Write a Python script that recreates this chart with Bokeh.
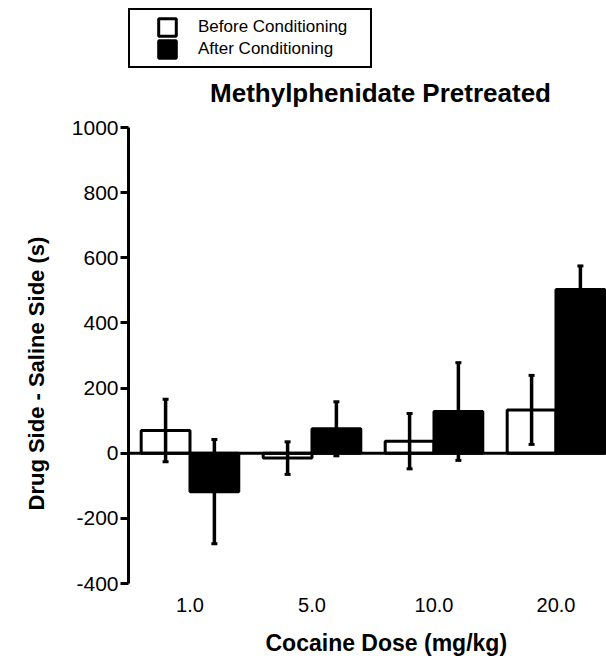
from bokeh.embed import file_html
from bokeh.models import (ColumnDataSource, FixedTicker, Label, Legend, LegendItem,
                          Range1d, Span, TeeHead, Title, Whisker)
from bokeh.plotting import figure
from bokeh.resources import INLINE
from bokeh.transform import dodge

# values (mean and SEM, seconds)
doses = ["1.0", "5.0", "10.0", "20.0"]
before_mean = [70, -15, 37, 133]
before_err = [96, 50, 85, 106]
after_mean = [-118, 75, 128, 503]
after_err = [160, 83, 150, 72]
y_ticks = [-400, -200, 0, 200, 400, 600, 800, 1000]

FONT = "Liberation Sans"


def make_source(means, errs):
    idx = list(range(1, len(means) + 1))
    return ColumnDataSource(data=dict(
        x=idx,
        y=means,
        lo=[m - e for m, e in zip(means, errs)],
        hi=[m + e for m, e in zip(means, errs)],
    ))


before = make_source(before_mean, before_err)
after = make_source(after_mean, after_err)
idx = list(range(1, len(doses) + 1))

# the frame runs up to the top edge so legend and title sit inside it;
# the axis itself is bounded to -400..1000
p = figure(
    width=606,
    height=670,
    x_range=Range1d(0.496, 4.414),
    y_range=Range1d(-400, 1390),
    output_backend="svg",
    toolbar_location=None,
    min_border_left=128,
    min_border_right=0,
    min_border_top=0,
    min_border_bottom=87,
)
p.xgrid.visible = False
p.ygrid.visible = False
p.outline_line_color = None

# y axis
p.yaxis.bounds = (y_ticks[0], y_ticks[-1])
p.yaxis.ticker = FixedTicker(ticks=y_ticks)
p.yaxis.major_label_overrides = {t: str(t) for t in y_ticks}
p.yaxis.axis_line_width = 3
p.yaxis.major_tick_line_width = 3
p.yaxis.major_tick_out = 8
p.yaxis.major_tick_in = 0
p.yaxis.minor_tick_line_color = None
p.yaxis.major_label_standoff = 2
p.yaxis.major_label_text_font = FONT
p.yaxis.major_label_text_font_size = "21px"
p.yaxis.major_label_text_color = "black"

# x axis: only the dose labels
p.xaxis.ticker = FixedTicker(ticks=idx)
p.xaxis.major_label_overrides = dict(zip(idx, doses))
p.xaxis.axis_line_color = None
p.xaxis.major_tick_line_color = None
p.xaxis.minor_tick_line_color = None
p.xaxis.major_label_standoff = 8
p.xaxis.major_label_text_font = FONT
p.xaxis.major_label_text_font_size = "20px"
p.xaxis.major_label_text_color = "black"

# axis titles sit a little off-centre in the original
p.add_layout(Title(text="Cocaine Dose (mg/kg)", align="left", offset=137, standoff=26,
                   text_font=FONT, text_font_size="23px", text_font_style="bold",
                   text_color="black"), "below")
p.add_layout(Title(text="Drug Side - Saline Side (s)", align="left", offset=73, standoff=40,
                   text_font=FONT, text_font_size="22px", text_font_style="bold",
                   text_color="black"), "left")

p.add_layout(Label(text="Methylphenidate Pretreated", x=252, y=491,
                   x_units="screen", y_units="screen",
                   text_align="center", text_baseline="middle",
                   text_font=FONT, text_font_size="26px", text_font_style="bold",
                   text_color="black"))

# bars
white = p.vbar(x=dodge("x", -0.2, range=p.x_range), top="y", bottom=0, width=0.4,
               source=before, fill_color="white", line_color="black", line_width=3)
black = p.vbar(x=dodge("x", 0.2, range=p.x_range), top="y", bottom=0, width=0.4,
               source=after, fill_color="black", line_color="black", line_width=3)

p.add_layout(Span(location=0, dimension="width", line_color="black", line_width=3))

# error bars
for src, off in ((before, -0.2), (after, 0.2)):
    wk = Whisker(source=src, base=dodge("x", off, range=p.x_range), upper="hi", lower="lo",
                 line_color="black", line_width=3.5,
                 upper_head=TeeHead(size=6, line_width=3, line_color="black"),
                 lower_head=TeeHead(size=6, line_width=3, line_color="black"))
    wk.level = "annotation"
    p.add_layout(wk)

legend = Legend(
    items=[LegendItem(label="Before Conditioning", renderers=[white]),
           LegendItem(label="After Conditioning", renderers=[black])],
    location=(0, 515),
    margin=0,
    glyph_width=22,
    glyph_height=22,
    spacing=0,
    padding=6,
    label_standoff=20,
    label_width=166,
    label_text_font=FONT,
    label_text_font_size="17px",
    label_text_color="black",
    border_line_color="black",
    border_line_alpha=1,
    border_line_width=2.5,
    background_fill_color="white",
    background_fill_alpha=1,
    title=" ",
    title_location="left",
    title_text_font_size="8px",
    title_standoff=11,
)
p.add_layout(legend)

open("out.html", "w").write(file_html(p, INLINE, "Methylphenidate Pretreated"))
